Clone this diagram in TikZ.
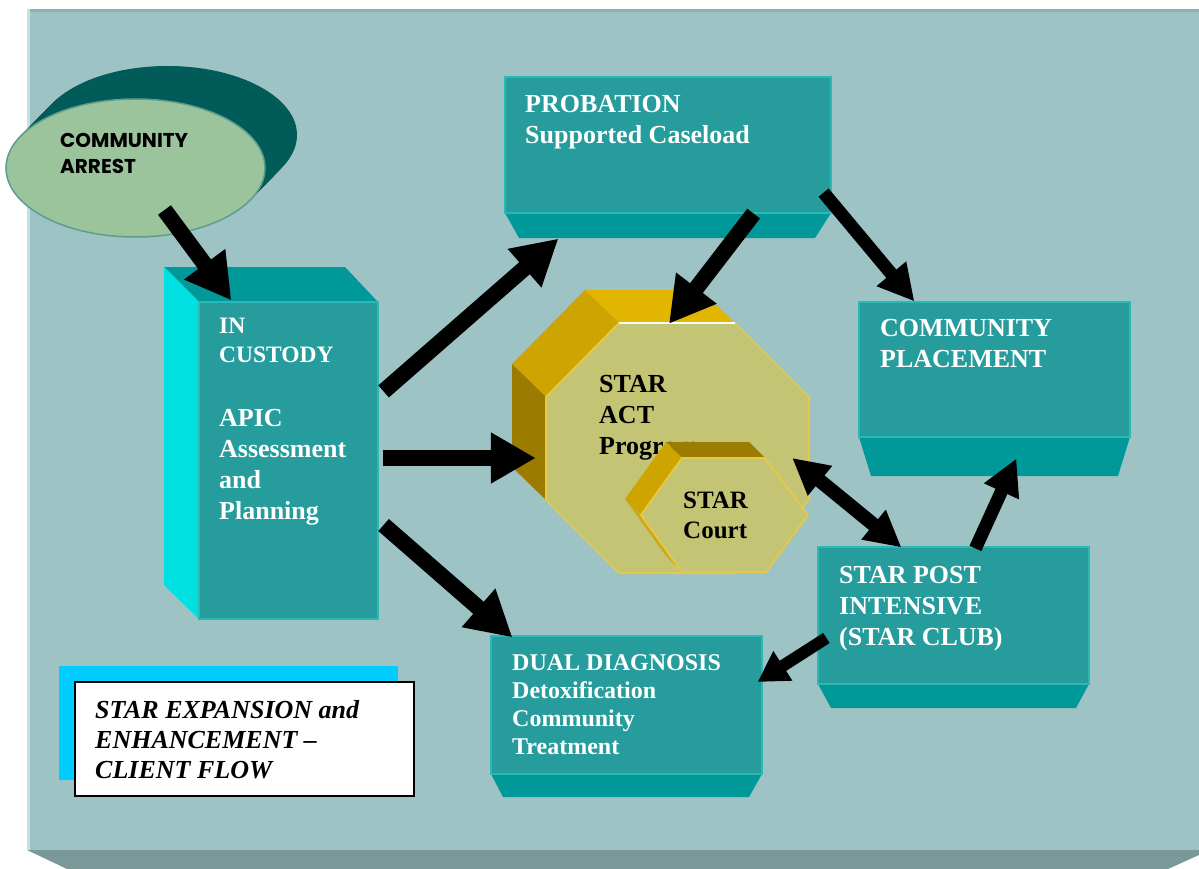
\documentclass[tikz,border=0pt]{standalone}
\usepackage{fontspec}
\setmainfont{Liberation Serif}
\newfontfamily\geofont{Poppins}
\usetikzlibrary{arrows.meta,shapes.geometric,calc}

\definecolor{panel}{HTML}{9DC3C4}
\definecolor{panelbevel}{HTML}{7A9897}
\definecolor{paneltop}{HTML}{8CB3B4}
\definecolor{panelside}{HTML}{C2E3E3}
\definecolor{boxfront}{HTML}{279C9C}
\definecolor{boxshade}{HTML}{009898}
\definecolor{boxlight}{HTML}{00E0E0}
\definecolor{boxedge}{HTML}{2DB8B8}
\definecolor{arrestfront}{HTML}{9CC49C}
\definecolor{arrestback}{HTML}{005B59}
\definecolor{arrestedge}{HTML}{5C9E8C}
\definecolor{goldtop}{HTML}{E2B500}
\definecolor{goldmid}{HTML}{CDA400}
\definecolor{golddark}{HTML}{9B7B00}
\definecolor{goldlow}{HTML}{C9A81E}
\definecolor{goldface}{HTML}{C4C475}
\definecolor{goldedge}{HTML}{E3C84A}
\definecolor{capshadow}{HTML}{00CCFF}

% multi-line labels are placed by the baseline of their last line
\tikzset{
  boxface/.style={fill=boxfront, draw=boxedge, line width=1.2pt, inner sep=0pt},
  lbl/.style={text=white, font=\bfseries\fontsize{26}{31}\selectfont,
    align=left, anchor=base west, inner sep=0pt},
  bigarrow/.style={line width=16pt, -{Triangle[length=45pt,width=48pt]}},
  midarrow/.style={line width=13pt, -{Triangle[length=36pt,width=36pt]}},
  smallarrow/.style={line width=12pt, -{Triangle[length=30pt,width=33pt]}},
}

\begin{document}
\begin{tikzpicture}[x=1pt,y=-1pt]
\useasboundingbox (0,0) rectangle (1199,869);

% backdrop slab
\fill[panel] (27,9) rectangle (1199,850);
\fill[paneltop] (27,9) rectangle (1199,12);
\fill[panelside] (27,9) rectangle (30,850);
\fill[panelbevel] (27,850) -- (1199,850) -- (1199,855) -- (1168,869) -- (67,869) -- cycle;

% community arrest disc
\foreach \k in {1,...,33}
  \fill[arrestback] (135.5+\k*0.97,168-\k) ellipse [x radius=129.5, y radius=69];
\node[ellipse, fill=arrestfront, draw=arrestedge, line width=1.5pt,
  minimum width=259pt, minimum height=138pt, inner sep=0pt] (arrest) at (135.5,168) {};
\node[lbl, text=black, font=\geofont\bfseries\fontsize{20}{26}\selectfont] (arrestt) at (60,174) {COMMUNITY\\ARREST};

% in custody column
\fill[boxshade] (164,267) -- (345,267) -- (378,302) -- (199,302) -- cycle;
\fill[boxlight] (164,267) -- (199,302) -- (199,619) -- (164,585) -- cycle;
\node[boxface, minimum width=179pt, minimum height=317pt] (cust) at (288.5,460.5) {};
\node[lbl, font=\bfseries\fontsize{23.5}{29}\selectfont] (custt) at (219,362) {IN\\CUSTODY};
\node[lbl] (apict) at (219,519) {APIC\\Assessment\\and\\Planning};

% probation
\fill[boxshade] (505,213) -- (831,213) -- (815,238) -- (519,238) -- cycle;
\node[boxface, minimum width=326pt, minimum height=136pt] (prob) at (668,145) {};
\node[lbl] (probt) at (525,144) {PROBATION\\Supported Caseload};

% community placement
\fill[boxshade] (859,437) -- (1130,437) -- (1118,476) -- (871,476) -- cycle;
\node[boxface, minimum width=271pt, minimum height=135pt] (place) at (994.5,369.5) {};
\node[lbl] (placet) at (880,367) {COMMUNITY\\PLACEMENT};

% star post intensive
\fill[boxshade] (818,684) -- (1089,684) -- (1076,708) -- (831,708) -- cycle;
\node[boxface, minimum width=271pt, minimum height=137pt] (post) at (953.5,615.5) {};
\node[lbl] (postt) at (839,645) {STAR POST\\INTENSIVE\\(STAR CLUB)};

% dual diagnosis
\fill[boxshade] (491,774) -- (762,774) -- (749,797) -- (503,797) -- cycle;
\node[boxface, minimum width=271pt, minimum height=138pt] (dual) at (626.5,705) {};
\node[lbl, font=\bfseries\fontsize{24}{28}\selectfont] (dualt) at (512,754) {DUAL DIAGNOSIS\\Detoxification\\Community\\Treatment};

% STAR ACT octagon
\fill[goldtop] (585,290) -- (701,290) -- (735,323) -- (619,323) -- cycle;
\fill[goldmid] (512,364) -- (585,290) -- (619,323) -- (546,397) -- cycle;
\fill[golddark] (512,364) -- (546,397) -- (546,500) -- (512,467) -- cycle;
\filldraw[fill=goldface, draw=goldedge, line width=2pt]
  (619,323) -- (735,323) -- (809,397) -- (809,500) -- (735,573)
  -- (619,573) -- (546,500) -- (546,397) -- cycle;
\draw[white, line width=2.5pt] (619,323) -- (735,323);
\node[inner sep=0pt, minimum width=263pt, minimum height=250pt] (act) at (677.5,448) {};
\node[lbl, text=black] (actt) at (599,454) {STAR\\ACT\\Program};

% STAR Court hexagon
\fill[golddark] (666,442) -- (749,442) -- (765,458) -- (682,458) -- cycle;
\fill[goldmid] (625,499) -- (666,442) -- (682,458) -- (641,515) -- cycle;
\fill[goldlow] (625,499) -- (641,515) -- (682,572) -- (666,556) -- cycle;
\filldraw[fill=goldface, draw=goldedge, line width=2pt]
  (682,458) -- (765,458) -- (808,515) -- (766,572) -- (682,572) -- (641,515) -- cycle;
\node[inner sep=0pt, minimum width=167pt, minimum height=114pt] (court) at (724.5,515) {};
\node[lbl, text=black, font=\bfseries\fontsize{25}{30}\selectfont] (courtt) at (683,538) {STAR\\Court};

% caption
\fill[capshadow] (59,666) rectangle (398,780);
\node[draw=black, line width=2pt, fill=white, minimum width=339pt, minimum height=114pt, inner sep=0pt] (cap) at (244.5,739) {};
\node[lbl, text=black, font=\bfseries\itshape\fontsize{26}{30}\selectfont] (capt) at (95,778) {STAR EXPANSION and\\ENHANCEMENT --\\CLIENT FLOW};

% flow arrows
\draw[bigarrow] ([shift={(29,42)}]arrest.center) -- ([shift={(33,-1)}]cust.north west);
\draw[bigarrow] ([shift={(5,90)}]cust.north east) -- ([shift={(54,25)}]prob.south west);
\draw[bigarrow] ([shift={(4,-2.5)}]cust.east) -- ([shift={(-10,10)}]act.west);
\draw[bigarrow] ([shift={(5,64.5)}]cust.east) -- ([shift={(22,2)}]dual.north west);
\draw[bigarrow] ([shift={(-78,0)}]prob.south east) -- ([shift={(-8.5,1)}]act.north);
\draw[midarrow] ([shift={(-8,-21)}]prob.south east) -- ([shift={(56,0)}]place.north west);
\draw[line width=14pt, {Triangle[length=36pt,width=36pt]}-{Triangle[length=36pt,width=36pt]}]
  ([shift={(-17,10)}]act.east) -- ([shift={(84,1)}]post.north west);
\draw[midarrow] ([shift={(158,2)}]post.north west) -- ([shift={(158,21)}]place.south west);
\draw[smallarrow] ([shift={(9,22.5)}]post.west) -- ([shift={(-5,-23)}]dual.east);
\end{tikzpicture}
\end{document}
